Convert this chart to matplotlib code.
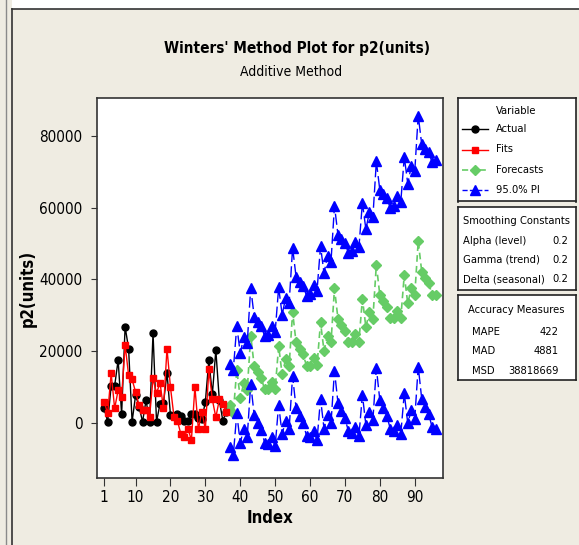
import matplotlib
matplotlib.use('Agg')
import matplotlib.pyplot as plt
from matplotlib.lines import Line2D

plt.rcParams['font.family'] = ['DejaVu Sans']
plt.rcParams['font.stretch'] = 'condensed'

# observed series (index 1..36)
index_actual = list(range(1, 37))
actual = [4000, 300, 10300, 10300, 17500, 2400, 26800, 20700, 300, 7700,
          4500, 300, 6300, 300, 25000, 300, 5300, 5500, 14000, 2100,
          2000, 2400, 1800, 500, 500, 2400, 2400, 1400, 1000, 5900,
          17500, 7900, 20300, 6300, 600, 3100]
fits = [5900, 2600, 13800, 4000, 9100, 7300, 21700, 13300, 12100, 8600,
        4900, 3700, 3500, 1500, 12400, 8200, 11200, 4000, 20700, 9900,
        1700, 500, -3200, -3900, -1600, -4800, 10000, -1800, 3100, -1800,
        14900, 6500, 1500, 6500, 5200, 3100]

# forecasts and 95% PI (index 37..96)
index_fore = list(range(37, 97))
forecasts = [4900, 2800, 14800, 6900, 11100, 9200, 24300, 15800, 14100, 12500, 9300, 9300,
             11500, 9400, 21400, 13500, 17700, 15800, 30900, 22400, 20700, 19100, 15900, 15900,
             18100, 16000, 28000, 20100, 24300, 22400, 37500, 29000, 27300, 25700, 22500, 22500,
             24700, 22600, 34600, 26700, 30900, 29000, 44100, 35600, 33900, 32300, 29100, 29100,
             31300, 29200, 41200, 33300, 37500, 35600, 50700, 42200, 40500, 38900, 35700, 35700]
upper = [16500, 14700, 27000, 19400, 23900, 22300, 37700, 29550, 28200, 27000, 24150, 24500,
         27100, 25350, 37750, 30200, 34800, 33300, 48800, 40700, 39400, 38250, 35450, 35900,
         38500, 36850, 49250, 41800, 46400, 44950, 60500, 52450, 51250, 50100, 47400, 47850,
         50550, 48900, 61400, 54000, 58700, 57300, 72900, 64900, 63700, 62600, 59950, 60450,
         63200, 61600, 74150, 66750, 71500, 70100, 85700, 77700, 76500, 75400, 72700, 73200]
lower = [-6700, -9100, 2600, -5600, -1700, -3900, 10900, 2050, 0, -2000, -5550, -5900,
         -4100, -6550, 5050, -3200, 600, -1700, 13000, 4100, 2000, -50, -3650, -4100,
         -2300, -4850, 6750, -1600, 2200, -150, 14500, 5550, 3350, 1300, -2400, -2850,
         -1150, -3700, 7800, -600, 3100, 700, 15300, 6300, 4100, 2000, -1750, -2250,
         -600, -3200, 8250, -150, 3500, 1100, 15700, 6700, 4500, 2400, -1300, -1800]

x_ticks = [1, 10, 20, 30, 40, 50, 60, 70, 80, 90]
y_ticks = [0, 20000, 40000, 60000, 80000]

smooth_names = ['Alpha (level)', 'Gamma (trend)', 'Delta (seasonal)']
smooth_vals = ['0.2', '0.2', '0.2']
acc_names = ['MAPE', 'MAD', 'MSD']
acc_vals = ['422', '4881', '38818669']

W, H = 579, 545
BG = '#EFECE2'
fig = plt.figure(figsize=(W / 100, H / 100), dpi=100, facecolor=BG)


def box(x0, y0, x1, y1):
    return [x0 / W, 1 - y1 / H, (x1 - x0) / W, (y1 - y0) / H]


def fline(xs, ys, **kw):
    fig.add_artist(Line2D([x / W for x in xs], [1 - y / H for y in ys],
                          transform=fig.transFigure, **kw))


# window frame bits
fig.patches.append(plt.Rectangle((12 / W, 1 - 9 / H), 1, 9 / H, transform=fig.transFigure,
                                 facecolor='white', edgecolor='none'))
fline([5.5, 5.5], [0, H], color='#8a8a8a', lw=1)
fline([12, 12], [9, H], color='#333333', lw=1.2)
fline([12, W], [9, 9], color='#333333', lw=1.2)

ax = fig.add_axes(box(96.5, 98, 443, 478))
ax.set_facecolor('white')

ax.plot(index_actual, actual, color='black', lw=1, marker='o', ms=5,
        label='Actual', zorder=3)
ax.plot(index_actual, fits, color='#FF0000', lw=1, marker='s', ms=5,
        label='Fits', zorder=4)
ax.plot(index_fore, forecasts, color='#66CC66', lw=1.2, ls=(0, (4, 2.5)),
        marker='D', ms=5, label='Forecasts', zorder=3)
ax.plot(index_fore, upper, color='#0000FF', lw=1, ls=(0, (8, 3)),
        marker='^', ms=6.5, label='95.0% PI', zorder=3)
ax.plot(index_fore, lower, color='#0000FF', lw=1, ls=(0, (8, 3)),
        marker='^', ms=6.5, zorder=3)

ax.set_xlim(-1.2, 98.1)
ax.set_ylim(-15400, 90600)
ax.set_xticks(x_ticks)
ax.set_yticks(y_ticks)
ax.tick_params(axis='both', labelsize=11, direction='out', color='#333333')
ax.tick_params(axis='x', length=6, pad=3)
ax.tick_params(axis='y', length=4, pad=6)
for s in ax.spines.values():
    s.set_linewidth(1.2)
    s.set_color('#333333')

ax.set_xlabel('Index', fontsize=12, fontweight='bold')
ax.set_ylabel('p2(units)', fontsize=12, fontweight='bold')
ax.xaxis.set_label_coords(0.5, -31 / 380)
ax.yaxis.set_label_coords(-60 / 346.5, 0.5)

fig.text(297 / W, 1 - 48 / H, "Winters' Method Plot for p2(units)", ha='center',
         va='center', fontsize=11, fontweight='bold')
fig.text(291 / W, 1 - 72 / H, 'Additive Method', ha='center', va='center', fontsize=10)


def panel(x0, y0, x1, y1):
    a = fig.add_axes(box(x0, y0, x1, y1))
    a.set_xlim(x0, x1)
    a.set_ylim(y1, y0)
    a.set_xticks([])
    a.set_yticks([])
    a.set_facecolor('white')
    for s in a.spines.values():
        s.set_linewidth(1.2)
        s.set_color('#222222')
    return a


FS = 8
p1 = panel(457.5, 98, 575.5, 201.5)
p1.text(516.5, 110.5, 'Variable', ha='center', va='center', fontsize=FS)
handles = ax.get_lines()[:4]
rows = [129, 149.5, 170, 190]
for h, y in zip(handles, rows):
    p1.plot([462, 488], [y, y], color=h.get_color(), lw=h.get_linewidth(),
            ls=h.get_linestyle())
    p1.plot([475], [y], color=h.get_color(), marker=h.get_marker(), ms=h.get_markersize())
    p1.text(496, y, h.get_label(), ha='left', va='center', fontsize=FS)

p2 = panel(457.5, 207.5, 575.5, 290)
p2.text(516.5, 221.5, 'Smoothing Constants', ha='center', va='center', fontsize=FS)
for name, val, y in zip(smooth_names, smooth_vals, [240.5, 260, 279]):
    p2.text(463, y, name, ha='left', va='center', fontsize=FS)
    p2.text(568, y, val, ha='right', va='center', fontsize=FS)

p3 = panel(457.5, 295, 575.5, 380)
p3.text(516.5, 310, 'Accuracy Measures', ha='center', va='center', fontsize=FS)
for name, val, y in zip(acc_names, acc_vals, [332, 351.5, 371]):
    p3.text(472, y, name, ha='left', va='center', fontsize=FS)
    p3.text(559, y, val, ha='right', va='center', fontsize=FS)

fig.savefig('out.png', dpi=100, facecolor=BG)
